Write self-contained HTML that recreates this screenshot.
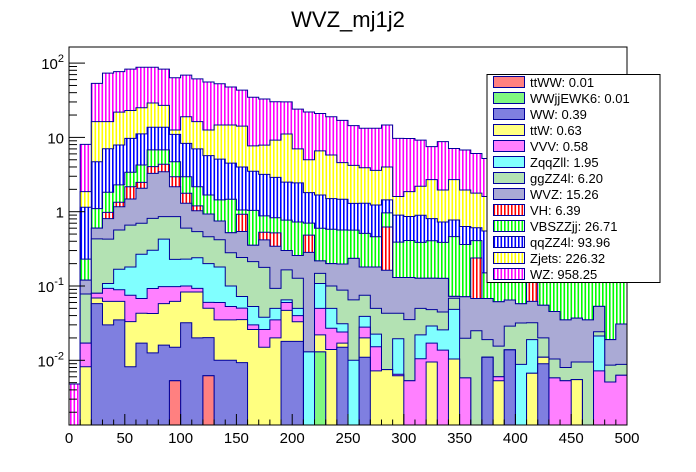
<!DOCTYPE html>
<html><head><meta charset="utf-8"><style>
html,body{margin:0;padding:0;background:#fff;}
svg{display:block;font-family:"Liberation Sans",Arial,sans-serif;}
</style></head><body>
<svg id="chart" width="696" height="472" viewBox="0 0 696 472" xmlns="http://www.w3.org/2000/svg">
<defs>
<clipPath id="frameClip"><rect x="69" y="47" width="558" height="378"/></clipPath>
</defs>
<rect x="0" y="0" width="696" height="472" fill="#fff"/>
<text x="348" y="27" text-anchor="middle" font-size="22" fill="#000">WVZ_mj1j2</text>
<g id="plot" clip-path="url(#frameClip)"></g>
<rect x="69" y="47" width="558" height="378" fill="none" stroke="#000" stroke-width="1"/>
<g id="xaxis"></g>
<g id="yaxis"></g>
<g id="legend"></g>
</svg>
<script>
const xMin = 0, xMax = 500, nBins = 50;
const xTickLabels = ["0","50","100","150","200","250","300","350","400","450","500"];
const yDecades = [-2, -1, 0, 1, 2];
const seriesNames = ["ttWW","WWjjEWK6","WW","ttW","VVV","ZqqZll","ggZZ4l","WVZ","VH","VBSZZjj","qqZZ4l","Zjets","WZ"];
const legendTexts = ["ttWW: 0.01","WWjjEWK6: 0.01","WW: 0.39","ttW: 0.63","VVV: 0.58","ZqqZll: 1.95","ggZZ4l: 6.20","WVZ: 15.26","VH: 6.39","VBSZZjj: 26.71","qqZZ4l: 93.96","Zjets: 226.32","WZ: 958.25"];
const ttWW = [0,0,0,0,0,0,0,0,0,.0053, 0,0,.0062,0,0,0,0,0,0,0, 0,0,0,0,0,0,0,0,0,0, 0,0,0,0,0,0,0,0,0,0, 0,0,0,0,0,0,0,0,0,0];
const WWjj = [0,0,0,0,0,0,0,0,0,0, 0,0,0,0,0,0,0,0,0,0, 0,0,.013,0,0,0,0,0,0,0, 0,0,0,0,0,0,0,0,0,0, 0,0,0,0,0,0,0,0,0,0];
const WW = [0,0,.058,.03,.035,.0082,.017,.0126,.016,.0097, .032,.02,.014,.01,.01,.0093,0,0,0,.018, .018,0,0,0,.015,0,.011,0,0,0, 0,0,0,0,0,0,0,.011,0,.0138, 0,0,.009,0,0,0,0,0,0,0];
const ttW = [0,.0082,.011,.032,.027,.025,.026,.03,.042,.047, .051,.063,.03,.025,.025,.026,.026,.015,.02,.029, .015,0,.009,.014,.002,0,.009,.0072,.0075,.0062, 0,0,.0095,0,.0104,0,0,0,.0053,0, 0,.0067,.002,0,0,.0055,0,0,0,0];
const VVV = [0,.0088,.011,.031,.027,.042,.025,.05,.04,.036, .017,.01,.01,.025,.018,.015,.004,.011,.015,.013, .007,0,.028,.013,.007,0,.008,.008,0,.0003, .0053,.0105,.0075,.0137,0,.0058,0,0,.0007,0, 0,0,0,.0058,.0053,0,0,.0072,.0051,.0063];
const ZqqZll = [0,0,0,.015,.079,.105,.2,.21,.33,.13, .13,.147,.14,.12,.047,.022,.023,.012,.015,.005, .01,.013,.058,.023,.007,.01,.011,.0073,0,.013, 0,.0115,.012,.012,.038,0,0,0,0,0, .0088,.0123,0,0,0,0,0,.014,0,0];
const ggZZ4l = [0,.061,.35,.32,.4,.48,.43,.51,.43,.63, .37,.3,.26,.24,.18,.17,.16,.14,.043,.1, .077,0,.04,.05,.057,.055,.036,.0275,.0355,.0235, .03,.028,.019,.019,.02,.014,.025,.008,.0095,.015, .023,.013,.009,.0046,.0027,.004,.0095,.003,.0035,.0025];
const WVZ = [0,.042,.17,.38,.6,.82,1.37,2.47,2.59,1.31, .7,.49,.47,.33,.24,.3,.14,.24,.25,.135, .13,.27,.07,.1,.11,.17,.105,.13,.12,.087, .095,.077,.079,.082,.004,.052,.043,.049,.046,.036, .026,.03,.035,.035,.027,.0275,.0255,.029,.0104,.022];
const VH = [0,0,0,.17,.17,.69,.41,.76,.9,.79, .47,.17,0,0,0,.38,0,.11,.175,0, 0,.2,0,0,0,0,0,0,.46,0, 0,0,0,0,0,0,.17,0,0,0, 0,.09,0,0,0,0,0,0,0,0];
const VBSZZjj = [0,.11,.5,.85,.96,1.23,1.77,2.76,2.45,1.74, 1.18,.97,.75,.69,.95,.13,.69,.35,.31,.47, .47,.22,.38,.38,.37,.33,.33,.28,.34,.26, .28,.26,.28,.26,.39,.29,.17,.082,.14,.135, .12,.06,.145,.135,.145,.16,.165,.147,.18,.17];
const qqZZ4l = [0,.92,3.6,5.2,5.6,6.3,6.9,6.9,6.9,6.3, 5.35,4.83,4.0,3.66,3.03,2.95,2.46,2.3,2.07,1.73, 1.72,1.1,1.08,.92,.9,.73,.79,.77,.48,.51, .45,.51,.4,.34,.31,.27,.2,.4,.35,.3, .3,.24,.2,.2,.17,.13,.1,.08,.07,.05];
const Zjets = [0,.71,11.6,9.3,14,13.3,13.9,15.3,13.3,1.6, 10.7,9.3,6.9,9.6,10.2,10.2,4.2,4.7,6.3,8.6, 4.55,3.2,4.9,4.3,3.1,2.9,2.6,2.37,2.56,.7, 1.0,1.3,1.9,1.23,1.93,1.33,1.17,1.05,.95,.9, .82,.8,.8,.72,.65,.62,.6,.57,.53,.5];
const WZ = [.0048,6.2,37,57,55,60,63,59,56,51, 50,45,43,38,33,29,27,25,21,19, 17,17,14.4,13.2,12.4,10.2,9.4,9.7,10.7,8.1, 7.8,7.0,4.8,6.8,4.4,4.8,4.3,3.6,3.3,2.9, 2.7,2.4,2.1,1.9,1.7,1.55,1.4,1.15,1.0,.95];

const NS = "http://www.w3.org/2000/svg";
const PX0 = 69, PX1 = 627, PY0 = 47, PY1 = 425;
const Y1 = 211.7, DEC = 74.3;
function xScale(v){ return PX0 + (v - xMin) / (xMax - xMin) * (PX1 - PX0); }
function yScale(v){ if (v <= 0) return PY1 + 5; let y = Y1 - DEC * Math.log10(v); return Math.max(PY0 - 5, Math.min(PY1 + 5, y)); }
function mk(tag, attrs, parent){ const e = document.createElementNS(NS, tag); for (const k in attrs) e.setAttribute(k, attrs[k]); if (parent) parent.appendChild(e); return e; }

const svg = document.getElementById('chart');
const defs = svg.querySelector('defs');
const styles = [
  {id:"p0", type:"solid", c:"#ff8080"},
  {id:"p1", type:"solid", c:"#80f780"},
  {id:"p2", type:"solid", c:"#7f7fe0"},
  {id:"p3", type:"solid", c:"#ffff80"},
  {id:"p4", type:"solid", c:"#ff80ff"},
  {id:"p5", type:"solid", c:"#80ffff"},
  {id:"p6", type:"solid", c:"#b3e2b3"},
  {id:"p7", type:"solid", c:"#aaaad5"},
  {id:"p8", type:"stripe", c:"#ff0000"},
  {id:"p9", type:"stripe", c:"#00ff00"},
  {id:"p10", type:"stripe", c:"#0000ff"},
  {id:"p11", type:"stripe", c:"#ffff00"},
  {id:"p12", type:"stripe", c:"#ff00ff"}
];
styles.forEach(s => {
  let p;
  if (s.type === "stripe") {
    p = mk('pattern', {id:s.id, patternUnits:"userSpaceOnUse", width:"3.5", height:"4"}, defs);
    mk('rect', {x:0, y:0, width:3.5, height:4, fill:"#fff"}, p);
    mk('rect', {x:0, y:0, width:1.6, height:4, fill:s.c}, p);
  } else {
    p = mk('pattern', {id:s.id, patternUnits:"userSpaceOnUse", width:"4", height:"4"}, defs);
    mk('rect', {x:0, y:0, width:4, height:4, fill:s.c}, p);
  }
});

const series = [ttWW, WWjj, WW, ttW, VVV, ZqqZll, ggZZ4l, WVZ, VH, VBSZZjj, qqZZ4l, Zjets, WZ];
const cum = [];
let run = new Array(nBins).fill(0);
series.forEach(s => { run = run.map((v, i) => v + s[i]); cum.push(run.slice()); });

const plot = document.getElementById('plot');
const bw = (xMax - xMin) / nBins;
for (let k = series.length - 1; k >= 0; k--) {
  const top = cum[k];
  let d = "M" + xScale(xMin) + "," + (PY1 + 5);
  for (let i = 0; i < nBins; i++) {
    const y = yScale(top[i]).toFixed(2);
    d += " L" + xScale(xMin + i * bw).toFixed(2) + "," + y + " L" + xScale(xMin + (i + 1) * bw).toFixed(2) + "," + y;
  }
  d += " L" + xScale(xMax) + "," + (PY1 + 5) + " Z";
  const path = mk('path', {d:d, fill:"url(#" + styles[k].id + ")", stroke:"#00009a", "stroke-width":"1"}, plot);
  
  
}

const xa = document.getElementById('xaxis');
for (let v = xMin; v <= xMax; v += 10) {
  const major = (v % 50 === 0);
  const x = xScale(v);
  const t = mk('line', {x1:x, x2:x, y1:PY1, y2:PY1 - (major ? 11 : 5.5), stroke:"#000", "stroke-width":"1"}, xa);
  
  
}
xTickLabels.forEach((lab, i) => {
  const v = xMin + i * 50;
  const t = mk('text', {x:xScale(v), y:443, "text-anchor":"middle", "font-size":"15", fill:"#000"}, xa);
  t.textContent = lab;
  
  
});

const ya = document.getElementById('yaxis');
for (let e = -3; e <= 2; e++) {
  for (let m = 1; m <= 9; m++) {
    const v = m * Math.pow(10, e);
    const y = Y1 - DEC * Math.log10(v);
    if (y < PY0 || y > PY1) continue;
    const t = mk('line', {x1:PX0, x2:PX0 + (m === 1 ? 16 : 8), y1:y, y2:y, stroke:"#000", "stroke-width":"1"}, ya);
    
    
  }
}
yDecades.forEach(e => {
  const y = Y1 - DEC * e;
  const g = mk('text', {x:64, y:y + 6, "text-anchor":"end", "font-size":"15", fill:"#000"}, ya);
  
  
  if (e === 0) { g.textContent = "1"; }
  else if (e === 1) { g.textContent = "10"; }
  else {
    const a = mk('tspan', {}, g); a.textContent = "10";
    const b = mk('tspan', {dy:"-7", "font-size":"11"}, g); b.textContent = String(e);
  }
});

const lg = document.getElementById('legend');
const box = mk('rect', {x:487, y:74.5, width:173, height:208, fill:"#fff", stroke:"#000", "stroke-width":"1"}, lg);


legendTexts.forEach((txt, i) => {
  const y = 77 + i * 16;
  const g = mk('g', {}, lg);
  
  
  mk('rect', {x:493.5, y:y - 0.5, width:31, height:11, fill:"url(#" + styles[i].id + ")", stroke:"#00009a", "stroke-width":"1"}, g);
  const t = mk('text', {x:530, y:y + 10, "font-size":"13", fill:"#000"}, g);
  t.textContent = txt;
});
</script>
</body></html>
